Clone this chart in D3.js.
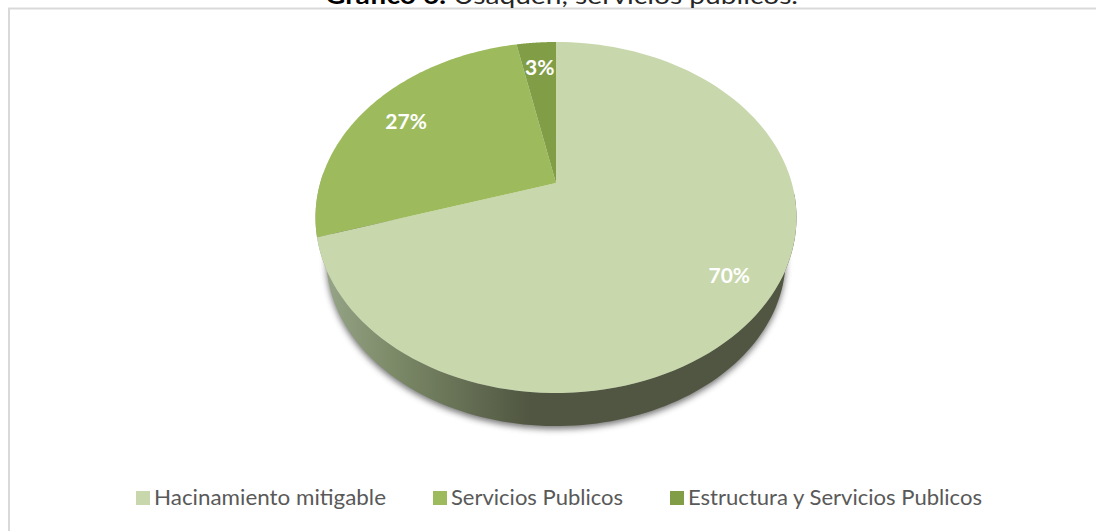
<!DOCTYPE html>
<html>
<head>
<meta charset="utf-8">
<script src="https://cdnjs.cloudflare.com/ajax/libs/d3/7.8.5/d3.min.js"></script>
<style>
html,body{margin:0;padding:0;background:#fff;overflow:hidden}
</style>
</head>
<body>
<script>
const categories = ["Hacinamiento mitigable", "Servicios Publicos", "Estructura y Servicios Publicos"];
const shares = [70.1, 26.7, 3.2];
const labels = ["70%", "27%", "3%"];
const colors = ["#c8d7ac", "#9dbb5c", "#819e47"];

const W = 1096, H = 531;
const svg = d3.select("body").append("svg").attr("width", W).attr("height", H).style("display","block");
const defs = svg.append("defs");

const grad = defs.append("linearGradient").attr("id","wall").attr("gradientUnits","userSpaceOnUse")
  .attr("x1",320).attr("x2",530).attr("y1",0).attr("y2",0);
grad.append("stop").attr("offset",0).attr("stop-color","#98a68a");
grad.append("stop").attr("offset",0.35).attr("stop-color","#7c8a68");
grad.append("stop").attr("offset",1).attr("stop-color","#505641");

defs.append("filter").attr("id","soft").attr("x","-10%").attr("y","-10%").attr("width","120%").attr("height","120%")
  .append("feGaussianBlur").attr("stdDeviation",3);

// chart frame
svg.append("rect").attr("x",9).attr("y",8.5).attr("width",1090).attr("height",530)
  .attr("fill","#fff").attr("stroke","#d9d9d9").attr("stroke-width",2);

// title, running off the top of the page as in the source
const title = svg.append("text").attr("x",325).attr("y",4)
  .attr("font-family","Lato").attr("font-size",24).attr("fill","#262626")
  .attr("textLength",473).attr("lengthAdjust","spacingAndGlyphs");
title.append("tspan").attr("font-weight","bold").attr("fill","#000").text("Gráfico 6.");
title.append("tspan").text(" Usaquén, servicios públicos.");

// perspective projection of the pie disc
const cx = 556, apexY = 183, topY = 42, botY = 393, halfW = 240.5;
const upper = apexY - topY, lower = botY - apexY;
const k = (lower - upper) / (lower + upper);
const A = upper * (1 + k);
const B = halfW * Math.sqrt(1 - k * k);
const project = (a, scale = 1, dy = 0) => {
  const u = Math.sin(a), v = Math.cos(a), w = 1 + k * v;
  return [cx + scale * B * u / w, apexY + dy - scale * A * v / w];
};
const angleSteps = (a0, a1) => d3.range(0, 121).map(i => a0 + (a1 - a0) * i / 120);

const pie = d3.pie().sort(null).value(d => d);
const arcs = pie(shares);

// side wall: front half of the disc, above a slightly smaller lower rim
const wallScale = 0.955, wallDy = 42.5;
const frontA0 = Math.PI * 0.52, frontA1 = Math.PI * 1.52;
const line = d3.line();
const lowerRim = angleSteps(frontA0, frontA1).map(a => project(a, wallScale, wallDy));
const upperRim = angleSteps(frontA1, frontA0).map(a => project(a));
const wallPath = line(lowerRim.concat(upperRim)) + "Z";

svg.append("path").attr("d", line(lowerRim.map(p => [p[0], p[1] + 3])) + "Z")
  .attr("fill","#555").attr("opacity",0.8).attr("filter","url(#soft)");
svg.append("path").attr("d", wallPath).attr("fill","url(#wall)");

// slices
svg.append("g").selectAll("path").data(arcs).join("path")
  .attr("d", d => line([[cx, apexY]].concat(angleSteps(d.startAngle, d.endAngle).map(a => project(a)))) + "Z")
  .attr("fill", (d, i) => colors[i]);

// slice labels
const labelRadius = [0.80, 0.80, 0.82];
const labelNudge = [[1, 3], [-2, 1], [0, 0]];
svg.append("g").selectAll("text").data(arcs).join("text")
  .attr("text-anchor","middle")
  .attr("font-family","Lato").attr("font-weight","bold").attr("font-size",21).attr("fill","#fff")
  .attr("transform", (d, i) => {
    const p = project((d.startAngle + d.endAngle) / 2, labelRadius[i]);
    return `translate(${p[0] + labelNudge[i][0]},${p[1] + 7 + labelNudge[i][1]})`;
  })
  .text((d, i) => labels[i]);

// legend
const legendX = d3.scaleOrdinal().domain(categories).range([136, 433, 670]);
const legendW = d3.scaleOrdinal().domain(categories).range([232, 172, 294]);
const lg = svg.append("g").selectAll("g").data(categories).join("g")
  .attr("transform", d => `translate(${legendX(d)},491)`);
lg.append("rect").attr("width",14).attr("height",14).attr("fill",(d,i)=>colors[i]);
lg.append("text").attr("x",18).attr("y",14).attr("font-family","Lato").attr("font-size",21)
  .attr("fill","#595959").attr("textLength",d=>legendW(d)).attr("lengthAdjust","spacingAndGlyphs").text(d=>d);
</script>
</body>
</html>
